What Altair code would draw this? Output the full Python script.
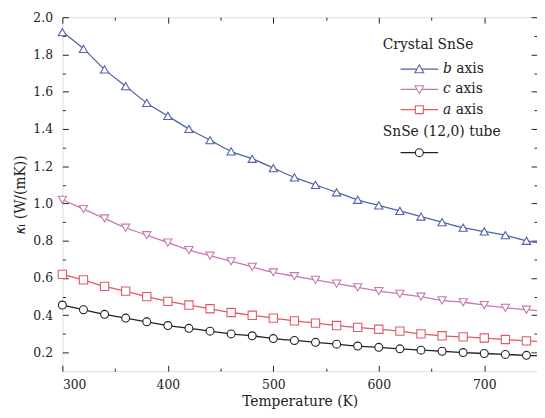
import altair as alt
import pandas as pd

# ---------------- data ----------------
temps = [300, 320, 340, 360, 380, 400, 420, 440, 460, 480, 500, 520,
         540, 560, 580, 600, 620, 640, 660, 680, 700, 720, 740, 750]
b_axis = [1.92, 1.83, 1.72, 1.63, 1.54, 1.47, 1.40, 1.34, 1.28, 1.24, 1.19, 1.14,
          1.10, 1.06, 1.02, 0.99, 0.96, 0.93, 0.90, 0.87, 0.85, 0.83, 0.80, 0.79]
c_axis = [1.02, 0.97, 0.92, 0.87, 0.83, 0.79, 0.75, 0.72, 0.69, 0.66, 0.63, 0.61,
          0.59, 0.57, 0.55, 0.53, 0.515, 0.50, 0.48, 0.47, 0.455, 0.44, 0.43, 0.425]
a_axis = [0.62, 0.59, 0.555, 0.53, 0.50, 0.475, 0.455, 0.435, 0.415, 0.40, 0.385, 0.37,
          0.358, 0.345, 0.335, 0.325, 0.315, 0.30, 0.29, 0.284, 0.278, 0.27, 0.263, 0.26]
tube_vals = [0.455, 0.43, 0.405, 0.385, 0.365, 0.345, 0.33, 0.315, 0.30, 0.29, 0.275, 0.265,
             0.255, 0.245, 0.235, 0.228, 0.22, 0.213, 0.207, 0.20, 0.195, 0.19, 0.185, 0.183]

crystal_names = ["𝑏 axis", "𝑐 axis", "𝑎 axis"]
tube_name = "SnSe (12,0) tube"
x_major = [300, 400, 500, 600, 700]
x_minor = [350, 450, 550, 650]
y_major = [0.2, 0.4, 0.6, 0.8, 1.0, 1.2, 1.4, 1.6, 1.8, 2.0]
y_minor = [0.3, 0.5, 0.7, 0.9, 1.1, 1.3, 1.5, 1.7, 1.9]

# ---------------- styling ----------------
FONT = "DejaVu Serif"
crystal_colors = ["#5262a8", "#c47aac", "#e05a66"]
tube_color = "#222222"
marker_shapes = ["triangle-up", "triangle-down", "square"]
# legend symbols: short line with a hollow marker in the middle
leg_paths = [
    "M-4.75,0L-0.6,0M0.6,0L4.75,0M0,-1.1L1.1,0.9L-1.1,0.9Z",
    "M-4.75,0L-0.6,0M0.6,0L4.75,0M0,1.1L1.1,-0.9L-1.1,-0.9Z",
    "M-4.75,0L-1,0M1,0L4.75,0M-1,-1L1,-1L1,1L-1,1Z",
]
tube_path = "M-4.75,0L-1,0M1,0L4.75,0M1,0A1,1 0 1,1 -1,0A1,1 0 1,1 1,0Z"

rows = []
for name, vals in zip(crystal_names, [b_axis, c_axis, a_axis]):
    for t, v in zip(temps, vals):
        rows.append({"T": t, "k": v, "series": name})
crystal_df = pd.DataFrame(rows)
tube_df = pd.DataFrame({"T": temps, "k": tube_vals, "series": tube_name})

xscale = alt.Scale(domain=[300, 750], nice=False, zero=False)
yscale = alt.Scale(domain=[0.1, 2.0], nice=False, zero=False)


def X(axis):
    return alt.X("T:Q", scale=xscale, axis=axis)


def Y(axis):
    return alt.Y("k:Q", scale=yscale, axis=axis)


def tick_axis(orient, values, size):
    return alt.Axis(orient=orient, values=values, offset=-size, tickSize=size,
                    tickColor="#222", tickWidth=1, labels=False, domain=False,
                    grid=False, title=None)


ax_x_lab = alt.Axis(orient="bottom", values=x_major, ticks=False, domain=False, grid=False,
                    labelFont=FONT, labelFontSize=12.5, labelColor="#222", labelPadding=8,
                    title="Temperature (K)", titleFont=FONT, titleFontSize=14,
                    titleFontWeight="normal", titleColor="#222", titlePadding=3)
ax_y_lab = alt.Axis(orient="left", values=y_major, ticks=False, domain=False, grid=False,
                    format=".1f", labelFont=FONT, labelFontSize=12.5, labelColor="#222",
                    labelPadding=10, title="𝜅ₗ (W/(mK))", titleFont=FONT, titleFontSize=14,
                    titleFontWeight="normal", titleColor="#222", titlePadding=5)

leg_common = dict(orient="none", padding=0, titleFont=FONT, titleFontSize=14,
                  titleFontWeight="normal", titleColor="#222", labelFont=FONT,
                  labelFontSize=14, labelColor="#222", symbolSize=64,
                  symbolOffset=30, labelOffset=17, rowPadding=6.5,
                  symbolOpacity=1, symbolFillColor="white", symbolStrokeWidth=1.1)
leg1 = alt.Legend(title="Crystal SnSe", legendX=324, legendY=21, titlePadding=10.5,
                  **leg_common)
leg2 = alt.Legend(title=tube_name, legendX=324, legendY=109, titlePadding=7,
                  labelExpr="''", **leg_common)

cscale = alt.Scale(domain=crystal_names, range=crystal_colors)

# ---------------- crystal SnSe ----------------
c_lines = alt.Chart(crystal_df).mark_line(strokeWidth=1.3, interpolate="monotone").encode(
    x=X(ax_x_lab), y=Y(ax_y_lab),
    stroke=alt.Stroke("series:N", scale=cscale, legend=None))
c_pts = alt.Chart(crystal_df).transform_filter("datum.T <= 740").mark_point(
    filled=True, fill="white", size=70, strokeWidth=1.1, opacity=1).encode(
    x=X(ax_x_lab), y=Y(ax_y_lab),
    stroke=alt.Stroke("series:N", scale=cscale, legend=None),
    shape=alt.Shape("series:N", scale=alt.Scale(domain=crystal_names, range=marker_shapes),
                    legend=None))
c_leg = alt.Chart(crystal_df).transform_filter("datum.T == 300").mark_point(
    opacity=0, size=64).encode(
    x=X(ax_x_lab), y=Y(ax_y_lab),
    stroke=alt.Stroke("series:N", scale=cscale, legend=leg1),
    shape=alt.Shape("series:N", scale=alt.Scale(domain=crystal_names, range=leg_paths),
                    legend=leg1))
crystal = alt.layer(c_lines, c_pts, c_leg).resolve_scale(stroke="independent",
                                                         shape="independent")

# ---------------- tube ----------------
axx_maj = tick_axis("bottom", x_major, 6)
axy_maj = tick_axis("left", y_major, 6)
t_lines = alt.Chart(tube_df).mark_line(strokeWidth=1.3, interpolate="monotone",
                                      color=tube_color).encode(x=X(axx_maj), y=Y(axy_maj))
t_pts = alt.Chart(tube_df).transform_filter("datum.T <= 740").mark_point(
    shape="circle", filled=True, fill="white", stroke=tube_color, size=64,
    strokeWidth=1.1, opacity=1).encode(x=X(axx_maj), y=Y(axy_maj))
t_leg = alt.Chart(tube_df).transform_filter("datum.T == 300").mark_point(
    opacity=0, size=64).encode(
    x=X(axx_maj), y=Y(axy_maj),
    stroke=alt.Stroke("series:N", scale=alt.Scale(domain=[tube_name], range=[tube_color]),
                      legend=leg2),
    shape=alt.Shape("series:N", scale=alt.Scale(domain=[tube_name], range=[tube_path]),
                    legend=leg2))
tube = alt.layer(t_lines, t_pts, t_leg).resolve_scale(stroke="independent",
                                                      shape="independent")


# ---------------- extra tick axes (inward ticks on all sides) ----------------
def axis_layer(ax_x, ax_y):
    return alt.Chart(tube_df).mark_point(opacity=0).encode(x=X(ax_x), y=Y(ax_y))


ticks_minor = axis_layer(tick_axis("bottom", x_minor, 3), tick_axis("left", y_minor, 3))
ticks_top = axis_layer(tick_axis("top", x_major, 6), tick_axis("right", y_major, 6))
ticks_top_minor = axis_layer(tick_axis("top", x_minor, 3), tick_axis("right", y_minor, 3))

chart = alt.layer(crystal, tube, ticks_minor, ticks_top, ticks_top_minor).resolve_scale(
    stroke="independent", shape="independent").resolve_axis(
    x="independent", y="independent").properties(
    width=480, height=358,
    padding={"left": 55, "top": 7, "right": 0, "bottom": 42},
    autosize=alt.AutoSizeParams(type="none"),
).configure_view(stroke="#222", strokeWidth=1).configure(background="white")

chart.save("out.html", embed_options={"renderer": "svg", "actions": False})
